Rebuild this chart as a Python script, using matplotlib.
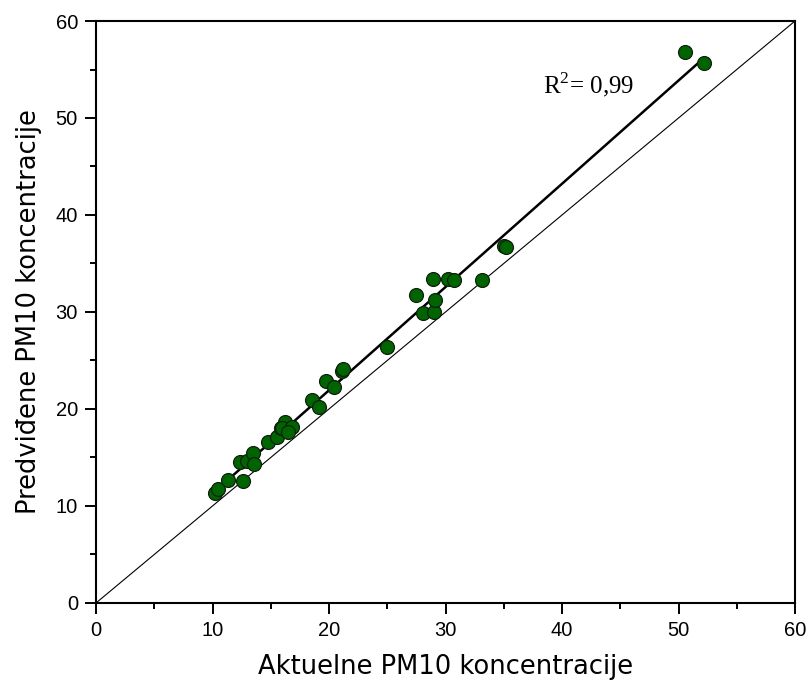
import numpy as np
import matplotlib.pyplot as plt

plt.rcParams['mathtext.fontset'] = 'custom'
plt.rcParams['mathtext.rm'] = 'Liberation Serif'

actual = [10.2, 10.5, 11.3, 12.4, 12.6, 13.0, 13.5, 13.6, 14.8, 15.5,
          15.9, 16.2, 16.0, 16.8, 16.5, 18.5, 19.1, 19.7, 20.4, 21.1,
          21.2, 25.0, 27.5, 28.1, 28.9, 29.0, 29.1, 30.2, 30.7, 33.1,
          35.0, 35.2, 50.6, 52.2]
predicted = [11.3, 11.8, 12.7, 14.5, 12.6, 14.6, 15.5, 14.3, 16.6, 17.1,
             18.0, 18.7, 18.0, 18.1, 17.6, 20.9, 20.2, 22.9, 22.3, 23.9,
             24.1, 26.4, 31.8, 29.9, 33.4, 30.0, 31.2, 33.4, 33.3, 33.3,
             36.8, 36.7, 56.8, 55.7]

ticks = [0, 10, 20, 30, 40, 50, 60]

fig = plt.figure(figsize=(8.09, 6.91), dpi=100)
ax = fig.add_axes([0.1187, 0.1274, 0.864, 0.8422])

# identity line
ax.plot([0, 60], [0, 60], color='black', linewidth=0.8)

# linear fit
a = np.array(actual)
p = np.array(predicted)
k, b = np.polyfit(a, p, 1)
xs = np.array([a.min(), a.max()])
ax.plot(xs, k * xs + b, color='black', linewidth=1.8, zorder=3)

ax.scatter(actual, predicted, s=100, color='#006400', edgecolor='#102010',
           linewidth=0.9, zorder=4)

ax.text(38.4, 53.4, r'$\mathrm{R}^{2}$= 0,99', fontsize=18,
        family='Liberation Serif', va='center', ha='left')

ax.set_xlim(0, 60)
ax.set_ylim(0, 60)
ax.set_xticks(ticks)
ax.set_yticks(ticks)
ax.set_xticks([5, 15, 25, 35, 45, 55], minor=True)
ax.set_yticks([5, 15, 25, 35, 45, 55], minor=True)
ax.tick_params(which='major', direction='out', length=8, width=1.4,
               labelsize=14.5, pad=5)
ax.tick_params(which='minor', direction='out', length=4.5, width=1.4)
for lbl in ax.get_xticklabels() + ax.get_yticklabels():
    lbl.set_family('Liberation Sans')
for s in ax.spines.values():
    s.set_linewidth(1.5)

ax.set_xlabel('Aktuelne PM10 koncentracije', fontsize=18.5, labelpad=10)
ax.set_ylabel('Predviđene PM10 koncentracije', fontsize=18.5, labelpad=10)

fig.savefig('out.png', dpi=100)
